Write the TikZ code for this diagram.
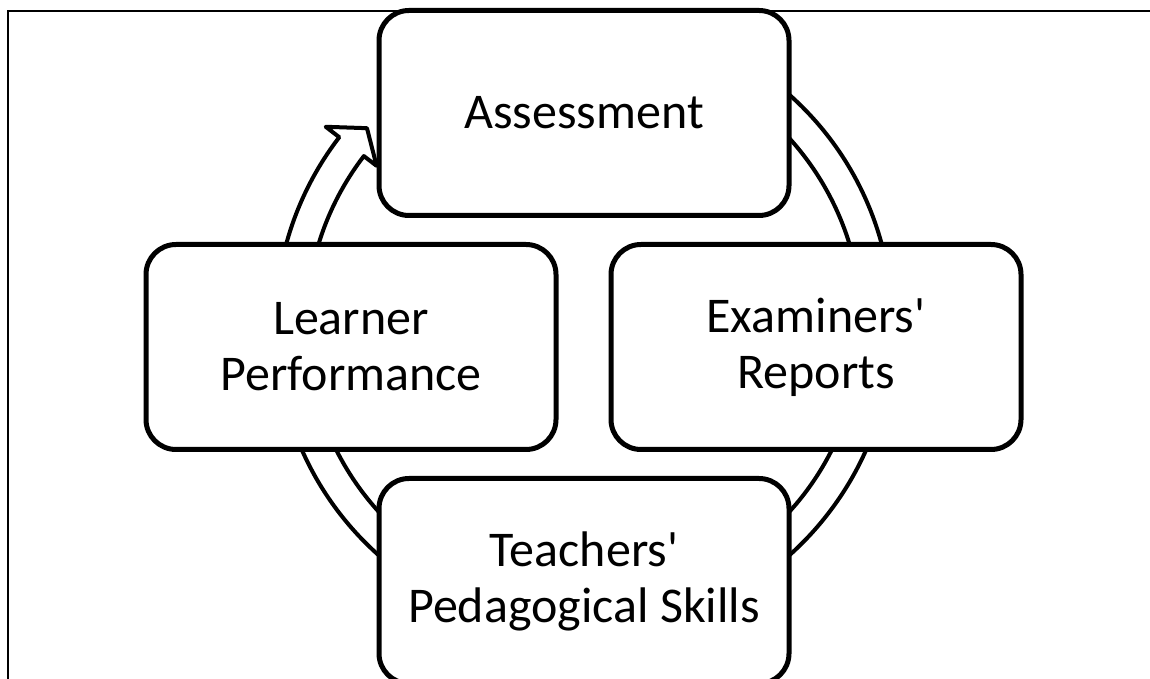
\documentclass[tikz,border=0pt]{standalone}
\usepackage{fontspec}
\setmainfont{Carlito}[Ligatures=TeXOff]
\begin{document}
\begin{tikzpicture}[x=1pt,y=1pt,
  box/.style={draw=black, fill=white, line width=5pt, rounded corners=30pt,
    minimum width=410pt, minimum height=205pt, align=center,
    font=\fontsize{50}{56}\selectfont, text=black, inner sep=0pt},
  ringline/.style={draw=black, fill=white, line width=4pt, line join=round},
  framestyle/.style={draw=black, line width=2pt}]
\useasboundingbox (0,0) rectangle (1150,679);
\clip (0,0) rectangle (1150,679);
\draw[framestyle] (8,-20) rectangle (1200,668);
\begin{scope}[shift={(584pt,354pt)}]
\draw[ringline] (142.5:308.5pt) arc[start angle=142.5, end angle=480, radius=308.5pt]
  -- (480:277.5pt) arc[start angle=480, end angle=142.5, radius=277.5pt]
  -- (142.5:261.4pt) -- (137.8:293pt) -- (142.5:325.6pt) -- cycle;
\end{scope}
\node[box] (assess) at (584,566) {Assessment};
\node[box] (learner) at (351,332) {Learner\\Performance};
\node[box] (exam) at (816,332) {Examiners'\\Reports};
\node[box] (teach) at (584,98) {Teachers'\\Pedagogical Skills};
\end{tikzpicture}
\end{document}
